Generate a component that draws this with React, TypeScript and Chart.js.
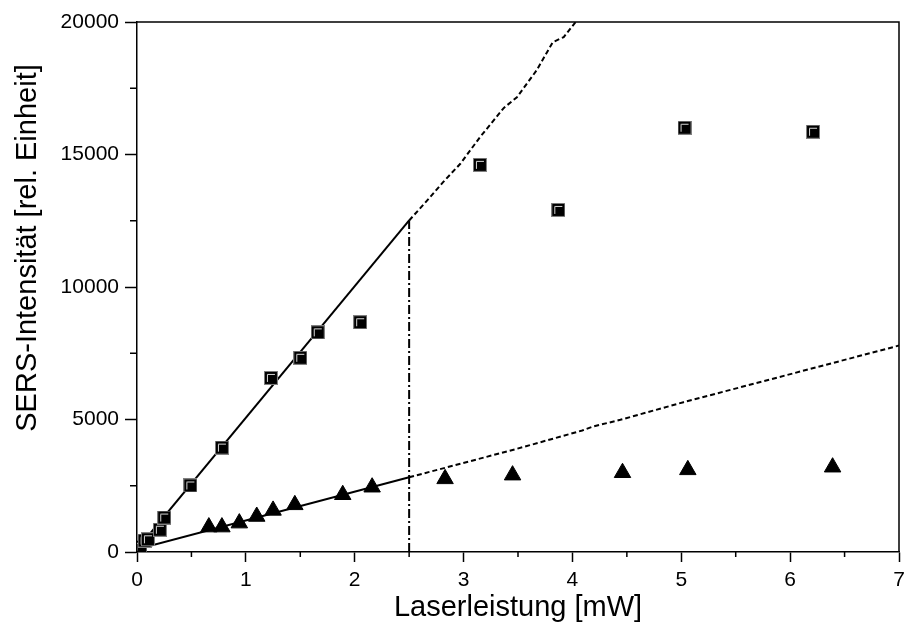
import React, { useEffect, useRef } from "react";
import { Chart, registerables } from "chart.js";

Chart.register(...registerables);

// Squares: measured SERS intensity (series 1)
const squareX = [0.01, 0.03, 0.07, 0.1, 0.21, 0.25, 0.49, 0.78, 1.23, 1.5, 1.66, 2.05, 3.15, 3.87, 5.03, 6.21];
const squareY = [100, 200, 430, 480, 840, 1300, 2510, 3940, 6570, 7330, 8290, 8670, 14610, 12910, 16010, 15860];

// Triangles: measured SERS intensity (series 2)
const triX = [0.66, 0.78, 0.94, 1.1, 1.25, 1.45, 1.89, 2.16, 2.83, 3.45, 4.46, 5.06, 6.39];
const triY = [940, 940, 1090, 1340, 1570, 1780, 2160, 2445, 2760, 2900, 2990, 3100, 3200];

// Linear fits (solid) up to 2.5 mW
const fitSqX = [0, 2.5];
const fitSqY = [100, 12510];
const fitTriX = [0, 2.5];
const fitTriY = [100, 2822];

// Dashed extrapolations
const extSqX = [2.5, 2.68, 2.81, 2.97, 3.15, 3.37, 3.49, 3.67, 3.82, 3.92, 4.03];
const extSqY = [12510, 13330, 13950, 14650, 15650, 16760, 17160, 18170, 19240, 19430, 20000];
const extTriX = [2.5, 2.83, 3.49, 4.09, 4.19, 4.44, 5.02, 5.78, 7];
const extTriY = [2822, 3177, 3894, 4585, 4736, 4988, 5653, 6472, 7790];

// Vertical dash-dot marker at 2.5 mW
const vertX = [2.5, 2.5];
const vertY = [0, 12510];

const xTitle = "Laserleistung [mW]";
const yTitle = "SERS-Intensität [rel. Einheit]";
const xMinorTicks = [0.5, 1.5, 2.5, 3.5, 4.5, 5.5, 6.5];
const yMinorTicks = [2500, 7500, 12500, 17500];

const zip = (xs: number[], ys: number[]) => xs.map((x, i) => ({ x, y: ys[i] }));

function makeSquare(): HTMLCanvasElement {
  const c = document.createElement("canvas");
  c.width = 14;
  c.height = 14;
  const g = c.getContext("2d")!;
  g.fillStyle = "#000";
  g.fillRect(0, 0, 14, 14);
  g.strokeStyle = "#808080";
  g.lineWidth = 1;
  g.strokeRect(0.5, 0.5, 13, 13);
  g.strokeStyle = "#d8d8d8";
  g.beginPath();
  g.moveTo(3.5, 11);
  g.lineTo(3.5, 3.5);
  g.lineTo(11, 3.5);
  g.stroke();
  return c;
}

const FONT = '"Liberation Sans", Arial, sans-serif';

const decorPlugin = {
  id: "decor",
  afterDraw(chart: any) {
    const { ctx, chartArea } = chart;
    const xs = chart.scales.x;
    const ys = chart.scales.y;
    ctx.save();
    ctx.strokeStyle = "#000";
    ctx.lineWidth = 1.5;
    ctx.beginPath();
    ctx.moveTo(chartArea.left, chartArea.top);
    ctx.lineTo(chartArea.right, chartArea.top);
    ctx.lineTo(chartArea.right, chartArea.bottom);
    ctx.stroke();
    ctx.beginPath();
    for (const v of xMinorTicks) {
      const px = xs.getPixelForValue(v);
      ctx.moveTo(px, chartArea.bottom);
      ctx.lineTo(px, chartArea.bottom + 5);
    }
    for (const v of yMinorTicks) {
      const py = ys.getPixelForValue(v);
      ctx.moveTo(chartArea.left - 7, py);
      ctx.lineTo(chartArea.left, py);
    }
    ctx.stroke();
    ctx.fillStyle = "#000";
    ctx.font = `29px ${FONT}`;
    ctx.textAlign = "center";
    ctx.textBaseline = "alphabetic";
    ctx.fillText(xTitle, (chartArea.left + chartArea.right) / 2, 616);
    ctx.translate(28, 248);
    ctx.rotate(-Math.PI / 2);
    ctx.textBaseline = "middle";
    ctx.fillText(yTitle, 0, 0);
    ctx.restore();
  },
};

export default function App() {
  const ref = useRef<HTMLCanvasElement>(null);
  useEffect(() => {
    const sq = makeSquare();
    const lineBase = { showLine: true, pointRadius: 0, borderColor: "#000", backgroundColor: "#000", fill: false };
    const tickFont = { family: FONT, size: 21 };
    const chart = new Chart(ref.current!, {
      type: "scatter",
      data: {
        datasets: [
          { data: zip(squareX, squareY), pointStyle: sq as any, pointRadius: 7, showLine: false },
          {
            data: zip(triX, triY),
            pointStyle: "triangle",
            pointRadius: 9.5,
            backgroundColor: "#000",
            borderColor: "#000",
            borderWidth: 1,
            showLine: false,
          },
          { ...lineBase, data: zip(fitSqX, fitSqY), borderWidth: 2 },
          { ...lineBase, data: zip(fitTriX, fitTriY), borderWidth: 2 },
          { ...lineBase, data: zip(extSqX, extSqY), borderWidth: 2, borderDash: [5, 3] },
          { ...lineBase, data: zip(extTriX, extTriY), borderWidth: 2, borderDash: [5, 3] },
          { ...lineBase, data: zip(vertX, vertY), borderWidth: 2, borderDash: [9, 3, 2, 3] },
        ] as any,
      },
      options: {
        animation: false,
        responsive: true,
        maintainAspectRatio: false,
        layout: { autoPadding: false, padding: { top: 22, right: 7, left: 0, bottom: 0 } },
        plugins: { legend: { display: false }, tooltip: { enabled: false } },
        scales: {
          x: {
            type: "linear",
            min: 0,
            max: 7,
            ticks: { stepSize: 1, color: "#000", font: tickFont, padding: 6, callback: (v: any) => String(v) },
            grid: { drawOnChartArea: false, tickLength: 10, tickColor: "#000", tickWidth: 1.5 },
            border: { color: "#000", width: 1.5 },
            afterFit: (s: any) => {
              s.height = 85;
              s.paddingRight = 0;
              s.paddingLeft = 0;
            },
          },
          y: {
            type: "linear",
            min: 0,
            max: 20000,
            ticks: { stepSize: 5000, color: "#000", font: tickFont, padding: 6, callback: (v: any) => String(v) },
            grid: { drawOnChartArea: false, tickLength: 12, tickColor: "#000", tickWidth: 1.5 },
            border: { color: "#000", width: 1.5 },
            afterFit: (s: any) => {
              s.width = 137;
              s.paddingTop = 0;
              s.paddingBottom = 0;
            },
          },
        },
      },
      plugins: [decorPlugin],
    });
    return () => chart.destroy();
  }, []);
  return (
    <div style={{ position: "absolute", left: 0, top: 0, width: 906, height: 637, background: "#fff" }}>
      <canvas ref={ref} />
    </div>
  );
}
